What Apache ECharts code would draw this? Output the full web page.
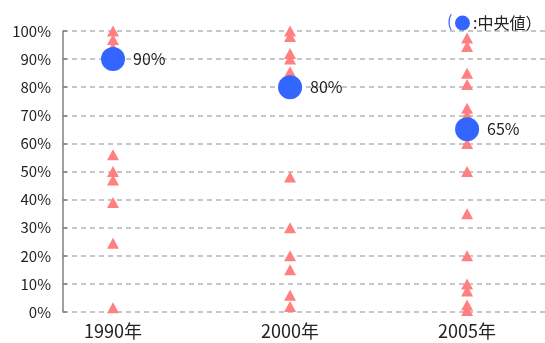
<!DOCTYPE html>
<html>
<head>
<meta charset="utf-8">
<script src="https://cdn.jsdelivr.net/npm/echarts@6/dist/echarts.min.js"></script>
<style>
  html, body { margin: 0; padding: 0; background: #fff; }
  #chart { width: 545px; height: 343px; }
</style>
</head>
<body>
<div id="chart"></div>
<script>
// Years shown on the horizontal axis
const years = ['1990年', '2000年', '2005年'];

// Individual company ratios (%) for each year
const ratios1990 = [100, 97, 94, 56, 50, 47, 39, 24.5, 1.5];
const ratios2000 = [100, 98, 92, 90, 85.5, 48, 30, 20, 15, 6, 2];
const ratios2005 = [97.5, 94.5, 85, 81, 72.5, 70, 60, 50, 35, 20, 10, 7.5, 2.5, 0.5];

// Median for each year (%)
const medians = [90, 80, 65];

// Y-axis ticks
const yTicks = { min: 0, max: 100, step: 10 };

const FONT = '"Noto Sans CJK JP", "Noto Sans", sans-serif';
const allRatios = [ratios1990, ratios2000, ratios2005];

const triangleData = [];
allRatios.forEach((list, i) => list.forEach(v => triangleData.push([i, v])));
const medianData = medians.map((v, i) => [i, v]);

const chart = echarts.init(document.getElementById('chart'), null, { renderer: 'canvas' });
chart.setOption({
  animation: false,
  backgroundColor: '#ffffff',
  grid: { left: 63, right: 0, top: 31, bottom: 31, containLabel: false },
  xAxis: {
    type: 'value',
    min: -0.2825,
    max: 2.44,
    axisLine: { show: false },
    axisTick: { show: false },
    splitLine: { show: false },
    axisLabel: {
      customValues: [0, 1, 2],
      formatter: v => years[Math.round(v)] || '',
      color: '#222',
      fontSize: 18,
      fontFamily: FONT,
      margin: 10
    }
  },
  yAxis: {
    type: 'value',
    min: yTicks.min,
    max: yTicks.max,
    interval: yTicks.step,
    axisLine: { show: true, onZero: false, lineStyle: { color: '#808080', width: 1.5 } },
    axisTick: { show: true, inside: true, length: 4, lineStyle: { color: '#808080', width: 1.5 } },
    splitLine: { show: true, lineStyle: { color: '#b4b4b4', type: [5, 4], width: 1.5 } },
    axisLabel: {
      formatter: '{value}%',
      color: '#222',
      fontSize: 15,
      fontFamily: FONT,
      margin: 12
    }
  },
  legend: {
    data: [{ name: '中央値', icon: 'circle' }],
    left: 455,
    top: 15,
    itemWidth: 15,
    itemHeight: 15,
    itemGap: 0,
    padding: 0,
    formatter: ':中央値）',
    textStyle: { color: '#222', fontSize: 16, fontFamily: FONT, padding: [0, 0, 0, -2] }
  },
  graphic: [{
    type: 'text',
    left: 447,
    top: 13,
    style: { text: '(', fill: '#3366ff', font: '16px ' + FONT }
  }],
  series: [
    {
      name: '企業',
      type: 'scatter',
      symbol: 'triangle',
      symbolSize: [12, 11],
      itemStyle: { color: '#ff8080', opacity: 1 },
      data: triangleData,
      z: 2
    },
    {
      name: '中央値',
      type: 'scatter',
      symbol: 'circle',
      symbolSize: 24,
      itemStyle: { color: '#3366ff', opacity: 1 },
      data: medianData,
      z: 3,
      label: {
        show: true,
        position: 'right',
        distance: 8,
        formatter: p => p.value[1] + '%',
        color: '#222',
        fontSize: 16,
        fontFamily: FONT
      }
    }
  ]
});
</script>
</body>
</html>
